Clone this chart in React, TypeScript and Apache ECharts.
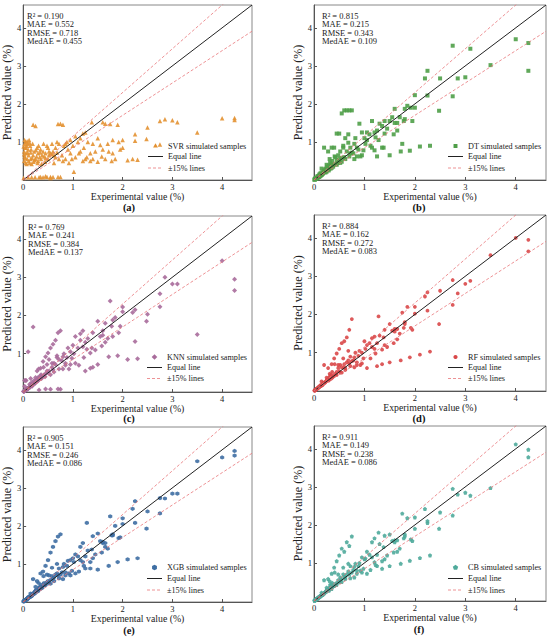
import React, { useEffect, useRef } from 'react';
import * as echarts from 'echarts';

// Shared experimental values of the test samples (%)
const experimental = [
  4.25, 4.25, 4.0, 3.5, 3.1, 3.0, 2.85, 2.75, 2.75, 2.5,
  2.48, 2.3, 2.25, 2.25, 2.2, 2.1, 2.0, 2.0, 1.9, 1.92,
  1.85, 1.8, 1.8, 1.78, 1.75, 1.72, 1.7, 1.65, 1.6, 1.6,
  1.58, 1.5, 1.5, 1.45, 1.4, 1.4, 1.38, 1.35, 1.3, 1.28,
  1.25, 1.22, 1.2, 1.2, 1.15, 1.12, 1.1, 1.05, 1.02, 1.0,
  0.98, 0.95, 0.92, 0.9, 0.88, 0.85, 0.82, 0.8, 0.78, 0.75,
  0.75, 0.72, 0.7, 0.7, 0.68, 0.65, 0.65, 0.62, 0.6, 0.6,
  0.58, 0.55, 0.55, 0.52, 0.5, 0.5, 0.48, 0.45, 0.45, 0.42,
  0.4, 0.4, 0.38, 0.36, 0.35, 0.33, 0.32, 0.3, 0.3, 0.28,
  0.27, 0.25, 0.25, 0.24, 0.22, 0.21, 0.2, 0.2, 0.18, 0.17,
  0.16, 0.15, 0.14, 0.13, 0.12, 0.11, 0.1, 0.1, 0.09, 0.08,
  0.07, 0.06, 0.05, 0.05, 0.04, 0.03, 0.03, 0.02, 0.02, 0.01,
  0.95, 0.85, 0.8, 0.72, 0.68, 0.62, 0.58, 0.52, 0.48, 0.44,
  0.41, 0.37, 0.34, 0.31, 0.29, 0.26, 0.23, 0.19, 0.17, 0.15,
  0.13, 0.11, 0.09, 0.08, 0.07, 0.06, 0.04, 0.03, 0.02, 0.01,
  1.35, 1.55, 1.65, 1.15, 1.05, 1.95, 1.25, 0.55, 0.45, 0.35,
];

const svrPred = [
  1.63, 1.58, 1.62, 1.25, 1.52, 1.57, 1.6, 1.55, 0.93, 1.38,
  1.08, 0.53, 1.2, 1.03, 0.55, 0.52, 1.05, 0.85, 1.45, 1.0,
  0.55, 0.7, 1.05, 0.5, 1.47, 0.75, 0.95, 0.55, 1.52, 0.8,
  0.62, 1.1, 0.48, 0.75, 0.95, 0.55, 1.52, 0.7, 1.0, 0.6,
  1.25, 0.85, 1.22, 0.5, 1.1, 0.7, 1.0, 0.6, 0.22, 0.9,
  0.55, 1.05, 0.45, 0.8, 1.0, 0.55, 0.9, 1.45, 0.65, 1.48,
  0.08, 0.95, 1.47, 0.08, 0.72, 0.85, 0.6, 0.65, 0.75, 0.08,
  0.68, 0.7, 0.08, 0.65, 0.85, 0.55, 0.08, 0.7, 0.58, 0.62,
  0.75, 0.07, 0.65, 0.55, 0.8, 0.6, 0.07, 0.7, 0.5, 0.85,
  0.62, 1.42, 0.55, 0.07, 0.75, 0.48, 1.45, 0.65, 0.58, 0.07,
  0.8, 0.55, 0.9, 0.45, 1.05, 0.65, 0.8, 0.07, 0.95, 0.55,
  0.9, 0.7, 1.0, 0.45, 0.85, 0.62, 1.05, 0.75, 0.5, 0.05,
  0.7, 0.95, 0.5, 0.55, 1.0, 0.45, 0.95, 0.75, 0.9, 0.48,
  0.95, 0.42, 0.72, 0.9, 0.45, 0.78, 0.52, 0.95, 0.42, 0.72,
  0.98, 0.5, 0.72, 1.02, 0.42, 0.85, 0.58, 0.95, 0.68, 0.88,
  0.5, 0.92, 1.48, 0.75, 1.15, 0.8, 0.55, 0.05, 0.1, 0.08,
];

const dtPred = [
  3.6, 2.87, 3.7, 3.02, 3.45, 2.7, 2.67, 3.53, 2.2, 2.67,
  1.82, 0.9, 2.87, 2.22, 2.67, 0.88, 2.23, 1.9, 0.77, 1.9,
  1.95, 1.6, 1.87, 1.55, 0.95, 0.75, 1.65, 1.3, 1.87, 1.5,
  1.2, 1.55, 0.65, 1.35, 1.55, 1.22, 0.85, 1.42, 1.48, 1.05,
  1.3, 1.12, 1.25, 0.78, 1.55, 0.9, 1.2, 1.05, 0.95, 1.1,
  0.78, 1.25, 0.62, 1.48, 0.8, 0.62, 1.1, 0.95, 0.7, 1.83,
  0.72, 0.85, 1.83, 0.62, 1.2, 1.83, 0.75, 1.1, 1.83, 0.6,
  0.85, 1.75, 0.58, 0.75, 1.22, 0.55, 0.45, 1.22, 0.52, 0.6,
  0.85, 0.4, 0.35, 0.5, 0.85, 0.3, 0.45, 0.38, 0.28, 0.75,
  0.3, 0.4, 0.22, 0.3, 0.28, 0.2, 0.85, 0.25, 0.18, 0.2,
  0.15, 0.3, 0.12, 0.18, 0.1, 0.15, 0.08, 0.12, 0.09, 0.07,
  0.1, 0.05, 0.06, 0.04, 0.05, 0.03, 0.04, 0.02, 0.03, 0.01,
  0.65, 0.85, 0.55, 0.7, 0.98, 0.55, 0.9, 0.45, 0.65, 0.42,
  0.62, 0.38, 0.4, 0.55, 0.25, 0.35, 0.2, 0.22, 0.16, 0.13,
  0.15, 0.1, 0.1, 0.08, 0.06, 0.06, 0.04, 0.03, 0.02, 0.01,
  0.85, 1.65, 1.5, 0.85, 1.25, 1.55, 0.62, 0.48, 0.4, 0.32,
];

const knnPred = [
  2.95, 2.65, 3.43, 1.5, 2.82, 2.82, 3.0, 2.57, 2.23, 2.03,
  1.85, 0.87, 2.15, 1.32, 2.08, 0.85, 2.22, 2.1, 0.95, 1.55,
  1.95, 1.88, 1.45, 1.72, 2.38, 0.92, 1.4, 1.3, 1.6, 1.48,
  1.2, 1.85, 0.72, 1.1, 1.55, 0.65, 1.15, 1.02, 1.4, 1.12,
  1.3, 0.9, 1.6, 1.18, 1.52, 0.7, 1.15, 0.75, 1.0, 1.22,
  0.88, 1.05, 0.6, 1.15, 0.9, 0.7, 1.0, 0.92, 0.82, 1.6,
  0.07, 0.85, 1.55, 0.08, 0.9, 1.35, 0.72, 0.75, 1.25, 0.58,
  0.65, 1.15, 0.07, 0.85, 1.02, 0.5, 0.55, 0.92, 0.48, 0.45,
  0.8, 0.42, 0.4, 0.45, 0.62, 0.35, 0.05, 0.38, 0.3, 0.55,
  0.32, 0.38, 0.25, 0.22, 0.3, 0.2, 1.7, 0.22, 0.15, 0.25,
  0.18, 0.35, 0.13, 0.2, 0.12, 0.1, 1.05, 0.1, 0.08, 0.1,
  0.06, 0.07, 0.3, 0.05, 0.04, 0.03, 0.3, 0.02, 0.03, 0.01,
  0.72, 0.75, 0.6, 0.6, 0.95, 0.52, 0.75, 0.55, 0.72, 0.4,
  0.65, 0.35, 0.42, 0.6, 0.28, 0.28, 0.25, 0.2, 0.17, 0.15,
  0.12, 0.11, 0.09, 0.08, 0.07, 0.3, 0.04, 0.15, 0.02, 0.01,
  0.62, 1.45, 1.8, 1.35, 1.45, 1.72, 0.55, 0.45, 0.08, 0.35,
];

const rfPred = [
  3.95, 3.65, 4.0, 3.55, 2.88, 2.8, 2.55, 2.9, 2.25, 2.62,
  1.75, 1.03, 2.58, 2.1, 2.47, 0.95, 2.2, 2.02, 0.88, 1.65,
  2.2, 1.8, 1.75, 1.65, 2.05, 0.8, 1.5, 1.35, 1.62, 1.55,
  1.25, 1.75, 0.75, 1.15, 1.6, 1.2, 1.4, 1.08, 1.45, 1.95,
  1.25, 0.98, 1.42, 1.1, 1.38, 0.85, 1.25, 0.6, 1.1, 1.3,
  0.85, 1.0, 0.68, 1.05, 0.92, 0.75, 1.0, 0.88, 0.8, 1.88,
  0.78, 0.9, 1.6, 0.72, 0.8, 1.4, 0.75, 0.6, 1.3, 0.7,
  0.62, 1.25, 0.62, 0.68, 1.1, 0.52, 0.6, 0.98, 0.5, 0.45,
  0.85, 0.42, 0.38, 0.5, 0.7, 0.32, 0.4, 0.35, 0.3, 0.6,
  0.28, 0.35, 0.28, 0.25, 0.22, 0.22, 0.68, 0.2, 0.18, 0.18,
  0.15, 0.25, 0.14, 0.15, 0.12, 0.13, 0.1, 0.11, 0.09, 0.08,
  0.07, 0.06, 0.05, 0.05, 0.04, 0.03, 0.03, 0.02, 0.02, 0.01,
  0.72, 0.68, 0.62, 0.65, 1.05, 0.55, 0.85, 0.48, 0.68, 0.42,
  0.7, 0.36, 0.42, 0.45, 0.27, 0.3, 0.24, 0.22, 0.16, 0.15,
  0.13, 0.11, 0.1, 0.08, 0.07, 0.06, 0.04, 0.03, 0.02, 0.01,
  0.7, 1.58, 1.62, 1.15, 1.2, 1.6, 0.65, 0.48, 0.42, 0.33,
];

const xgbPred = [
  3.97, 3.85, 3.8, 3.7, 2.85, 2.85, 2.72, 2.73, 2.33, 2.38,
  1.93, 1.15, 2.65, 2.08, 2.45, 1.12, 2.2, 2.05, 1.05, 1.68,
  2.0, 1.75, 1.78, 1.75, 2.25, 0.95, 1.4, 1.45, 1.58, 1.55,
  1.3, 1.8, 0.85, 1.25, 1.73, 1.15, 1.38, 1.05, 1.35, 2.08,
  1.2, 0.95, 1.55, 1.05, 1.45, 0.8, 1.2, 0.75, 1.05, 1.15,
  0.82, 1.1, 0.75, 1.08, 0.95, 0.78, 1.0, 0.92, 0.78, 1.78,
  0.72, 0.88, 1.72, 0.7, 0.75, 1.6, 0.72, 0.65, 1.45, 0.62,
  0.68, 1.3, 0.58, 0.7, 1.1, 0.55, 0.52, 0.95, 0.48, 0.5,
  0.8, 0.42, 0.38, 0.45, 0.75, 0.35, 0.38, 0.32, 0.3, 0.55,
  0.3, 0.4, 0.25, 0.28, 0.25, 0.22, 0.6, 0.2, 0.18, 0.16,
  0.15, 0.22, 0.14, 0.15, 0.12, 0.13, 0.12, 0.1, 0.1, 0.09,
  0.07, 0.07, 0.06, 0.05, 0.05, 0.04, 0.03, 0.03, 0.02, 0.02,
  0.7, 0.7, 0.6, 0.62, 1.0, 0.55, 0.9, 0.5, 0.72, 0.44,
  0.68, 0.36, 0.4, 0.5, 0.28, 0.32, 0.22, 0.21, 0.17, 0.14,
  0.13, 0.11, 0.09, 0.08, 0.06, 0.06, 0.04, 0.03, 0.02, 0.01,
  0.88, 1.6, 1.55, 1.1, 1.25, 1.7, 0.88, 0.48, 0.45, 0.35,
];

const cbPred = [
  3.98, 3.78, 4.12, 2.97, 2.77, 2.85, 2.8, 2.95, 2.25, 2.33,
  1.9, 1.2, 2.1, 2.05, 2.42, 1.13, 2.2, 1.9, 1.06, 1.62,
  2.18, 1.7, 1.75, 1.65, 2.3, 0.98, 1.38, 1.3, 1.55, 1.6,
  1.28, 1.75, 0.92, 1.2, 1.72, 1.1, 1.42, 1.05, 1.5, 1.8,
  1.22, 0.95, 1.65, 1.02, 1.55, 0.82, 1.22, 0.72, 1.12, 1.1,
  0.85, 1.15, 0.8, 1.0, 0.92, 0.8, 0.98, 0.9, 0.82, 1.7,
  0.75, 0.92, 1.45, 0.7, 0.78, 1.55, 0.7, 0.62, 1.3, 0.65,
  0.7, 1.38, 0.58, 0.62, 1.2, 0.5, 0.55, 1.05, 0.48, 0.45,
  0.88, 0.4, 0.4, 0.48, 0.72, 0.35, 0.42, 0.35, 0.28, 0.58,
  0.3, 0.35, 0.25, 0.27, 0.23, 0.22, 0.55, 0.2, 0.18, 0.18,
  0.17, 0.22, 0.15, 0.14, 0.12, 0.12, 0.1, 0.11, 0.09, 0.08,
  0.07, 0.06, 0.06, 0.05, 0.04, 0.04, 0.03, 0.03, 0.02, 0.01,
  0.75, 0.72, 0.62, 0.6, 0.98, 0.58, 0.88, 0.52, 0.7, 0.42,
  0.75, 0.38, 0.44, 0.52, 0.28, 0.3, 0.24, 0.2, 0.16, 0.15,
  0.13, 0.11, 0.1, 0.08, 0.07, 0.06, 0.05, 0.03, 0.02, 0.01,
  0.85, 1.58, 1.6, 1.15, 1.3, 1.58, 0.92, 0.5, 0.43, 0.32,
];

const modelNames = ['SVR', 'DT', 'KNN', 'RF', 'XGB', 'CB'];
const predictions = [svrPred, dtPred, knnPred, rfPred, xgbPred, cbPred];
const r2Values = ['0.190', '0.815', '0.769', '0.884', '0.905', '0.911'];
const maeValues = ['0.552', '0.215', '0.241', '0.162', '0.151', '0.149'];
const rmseValues = ['0.718', '0.343', '0.384', '0.272', '0.246', '0.238'];
const medaeValues = ['0.455', '0.109', '0.137', '0.083', '0.086', '0.086'];
const panelLetters = ['a', 'b', 'c', 'd', 'e', 'f'];
const xTickValues = [0, 1, 2, 3, 4];
const yTickValues = [1, 2, 3, 4];
const axisMin = 0;
const axisMax = 4.6;
const equalSlope = 1;
const upperSlope = 1.15;
const lowerSlope = 0.85;
const equalLineName = 'Equal line';
const bandLineName = '±15% lines';

// Styling / layout (not data)
const colors = ['#E39131', '#4F9E48', '#A86B9B', '#D94849', '#3E6EA3', '#4FAA9B'];
const EQUAL_COLOR = '#222';
const BAND_COLOR = '#E8767A';
const symbols = [
  'triangle',
  'rect',
  'diamond',
  'circle',
  'path://M0,-10 L8.66,-5 L8.66,5 L0,10 L-8.66,5 L-8.66,-5 Z',
  'path://M0,-10 L9.51,-3.09 L5.88,8.09 L-5.88,8.09 L-9.51,-3.09 Z',
];
const legendSides = [3, 4, 4, 0, 6, 5]; // polygon sides for legend marker (0 = circle)
const legendRot = [-Math.PI / 2, Math.PI / 4, -Math.PI / 2, 0, -Math.PI / 2, -Math.PI / 2];
const symbolSizes = [4.5, 4, 5, 3.8, 4.2, 4.2];
const panels = [
  { left: 19, top: 5, w: 233, h: 175, textX: 168, rows: [146, 156.5, 168], capX: 129, capY: 207.5 },
  { left: 314, top: 5, w: 232, h: 175, textX: 468, rows: [146, 156.5, 168], capX: 419, capY: 207.5 },
  { left: 20, top: 216, w: 232, h: 176, textX: 167, rows: [357, 367.5, 378.5], capX: 129, capY: 418.5 },
  { left: 314, top: 215, w: 232, h: 176, textX: 468, rows: [357, 367.5, 378.5], capX: 419, capY: 418 },
  { left: 19, top: 427, w: 233, h: 175, textX: 167, rows: [567.5, 578.5, 590], capX: 129, capY: 630 },
  { left: 314, top: 426, w: 232, h: 175, textX: 468, rows: [567.5, 578.5, 590], capX: 419, capY: 629 },
];
const FONT = '"Liberation Serif", "Times New Roman", serif';

function polygonPoints(cx: number, cy: number, r: number, n: number, rot: number) {
  const pts: number[][] = [];
  for (let k = 0; k < n; k++) {
    const a = rot + (k * 2 * Math.PI) / n;
    pts.push([cx + r * Math.cos(a), cy + r * Math.sin(a)]);
  }
  return pts;
}

function buildOption() {
  const grid: any[] = [];
  const xAxis: any[] = [];
  const yAxis: any[] = [];
  const series: any[] = [];
  const graphic: any[] = [];

  panels.forEach((p, i) => {
    grid.push({
      left: p.left, top: p.top, width: p.w, height: p.h,
      show: true, borderColor: '#888', borderWidth: 1, backgroundColor: '#fff',
    });
    const axisCommon = {
      type: 'value', min: axisMin, max: axisMax, interval: 1, gridIndex: i,
      nameLocation: 'middle',
      axisLine: { show: true, lineStyle: { color: '#555', width: 1 } },
      splitLine: { show: false },
    };
    xAxis.push({
      ...axisCommon,
      name: 'Experimental value (%)',
      nameGap: 5,
      nameTextStyle: { fontFamily: FONT, fontSize: 9.8, color: '#222' },
      axisTick: { show: true, inside: true, length: 3, customValues: xTickValues, lineStyle: { color: '#555' } },
      axisLabel: { customValues: xTickValues, fontFamily: FONT, fontSize: 8.5, color: '#222', margin: 2 },
    });
    yAxis.push({
      ...axisCommon,
      name: 'Predicted value (%)',
      nameGap: 8,
      nameTextStyle: { fontFamily: FONT, fontSize: 12, color: '#222' },
      axisTick: { show: true, inside: true, length: 3, customValues: xTickValues, lineStyle: { color: '#555' } },
      axisLabel: { customValues: yTickValues, fontFamily: FONT, fontSize: 8.5, color: '#222', margin: 2 },
    });

    const preds = predictions[i];
    const sampleName = `${modelNames[i]} simulated samples`;
    series.push({
      type: 'scatter', name: sampleName, xAxisIndex: i, yAxisIndex: i,
      data: experimental.map((x, k) => [x, preds[k]]),
      symbol: symbols[i], symbolSize: symbolSizes[i],
      itemStyle: { color: colors[i], opacity: 0.9 },
      z: 2,
    });
    series.push({
      type: 'line', name: equalLineName, xAxisIndex: i, yAxisIndex: i,
      data: [[axisMin, axisMin * equalSlope], [axisMax, axisMax * equalSlope]],
      symbol: 'none', lineStyle: { color: EQUAL_COLOR, width: 1 }, itemStyle: { color: EQUAL_COLOR },
      z: 3, clip: true,
    });
    [upperSlope, lowerSlope].forEach((s) => {
      series.push({
        type: 'line', name: bandLineName, xAxisIndex: i, yAxisIndex: i,
        data: [[axisMin, axisMin * s], [axisMax, axisMax * s]],
        symbol: 'none', lineStyle: { color: BAND_COLOR, width: 0.8, type: [3, 2] }, itemStyle: { color: BAND_COLOR },
        z: 3, clip: true,
      });
    });

    // Legend (drawn as graphics so that handles match the reference)
    const hx1 = p.textX - 5;
    const hx0 = hx1 - 15;
    const hcx = (hx0 + hx1) / 2;
    const [r0, r1, r2] = p.rows;
    if (legendSides[i] === 0) {
      graphic.push({ type: 'circle', z: 20, shape: { cx: hcx, cy: r0, r: 2.1 }, style: { fill: colors[i] } });
    } else {
      graphic.push({
        type: 'polygon', z: 20,
        shape: { points: polygonPoints(hcx, r0, 2.8, legendSides[i], legendRot[i]) },
        style: { fill: colors[i] },
      });
    }
    graphic.push({
      type: 'line', z: 20, shape: { x1: hx0, y1: r1, x2: hx1, y2: r1 },
      style: { stroke: EQUAL_COLOR, lineWidth: 1 },
    });
    graphic.push({
      type: 'line', z: 20, shape: { x1: hx0, y1: r2, x2: hx1, y2: r2 },
      style: { stroke: BAND_COLOR, lineWidth: 0.8, lineDash: [3, 2] },
    });
    [sampleName, equalLineName, bandLineName].forEach((t, k) => {
      graphic.push({
        type: 'text', z: 20, x: p.textX, y: p.rows[k],
        style: { text: t, font: `8.2px ${FONT}`, fill: '#222', textVerticalAlign: 'middle' },
      });
    });

    graphic.push({
      type: 'text', left: p.left + 8, top: p.top + 6, z: 10,
      style: {
        text: `R² = ${r2Values[i]}\nMAE = ${maeValues[i]}\nRMSE = ${rmseValues[i]}\nMedAE = ${medaeValues[i]}`,
        font: `8.5px ${FONT}`, lineHeight: 8.6, fill: '#222',
      },
    });
    graphic.push({
      type: 'text', x: p.capX, y: p.capY, z: 10,
      style: {
        text: `(${panelLetters[i]})`, font: `bold 10.5px ${FONT}`, fill: '#111',
        textAlign: 'center', textVerticalAlign: 'middle',
      },
    });
  });

  return {
    animation: false,
    backgroundColor: '#fff',
    textStyle: { fontFamily: FONT },
    grid, xAxis, yAxis, series, graphic,
  };
}

export default function App() {
  const ref = useRef<HTMLDivElement>(null);
  useEffect(() => {
    if (!ref.current) return;
    const chart = echarts.init(ref.current, null, { renderer: 'svg' });
    chart.setOption(buildOption() as any);
    return () => chart.dispose();
  }, []);
  return (
    <div
      ref={ref}
      style={{ position: 'absolute', left: 0, top: 0, width: 550, height: 640, background: '#fff' }}
    />
  );
}
